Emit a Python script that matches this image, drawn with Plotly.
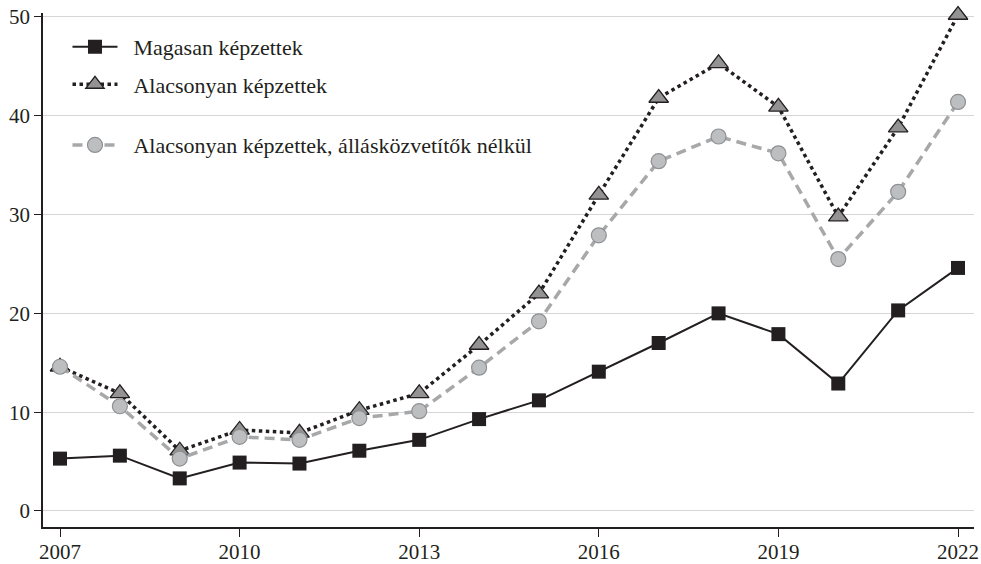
import plotly.graph_objects as go

years = list(range(2007, 2023))
magasan = [5.3, 5.6, 3.3, 4.9, 4.8, 6.1, 7.2, 9.3, 11.2, 14.1, 17.0, 20.0, 17.9, 12.9, 20.3, 24.6]
alacsony = [14.6, 11.9, 6.1, 8.2, 7.9, 10.2, 11.9, 16.8, 22.0, 32.0, 41.8, 45.3, 40.9, 29.8, 38.8, 50.2]
alacsony_nelkul = [14.6, 10.6, 5.3, 7.5, 7.2, 9.4, 10.1, 14.5, 19.2, 27.9, 35.4, 37.9, 36.2, 25.5, 32.3, 41.4]

names = ["Magasan képzettek", "Alacsonyan képzettek",
         "Alacsonyan képzettek, állásközvetítők nélkül"]
xticks = [2007, 2010, 2013, 2016, 2019, 2022]
yticks = [0, 10, 20, 30, 40, 50]

FONT = "Liberation Serif"
DARK = "#231f20"
PAD = "\u00a0\u00a0"

fig = go.Figure()
fig.add_trace(go.Scatter(
    x=years, y=alacsony, name=PAD + names[1], mode="lines+markers", legend="legend2",
    cliponaxis=False,
    line=dict(color=DARK, width=3.5, dash="dot"),
    marker=dict(symbol="triangle-up", size=17, color="#939393",
                line=dict(color=DARK, width=1.3))))
fig.add_trace(go.Scatter(
    x=years, y=alacsony_nelkul, name=PAD + names[2], mode="lines+markers", legend="legend3",
    cliponaxis=False,
    line=dict(color="#a7a8aa", width=3.5, dash="10px,6px"),
    marker=dict(symbol="circle", size=15, color="#bdbec0",
                line=dict(color="#8e9093", width=1.2))))
fig.add_trace(go.Scatter(
    x=years, y=magasan, name=PAD + names[0], mode="lines+markers", legend="legend",
    cliponaxis=False,
    line=dict(color=DARK, width=2),
    marker=dict(symbol="square", size=14, color=DARK, line=dict(width=0))))

leg_common = dict(xanchor="left", yanchor="middle", bgcolor="rgba(0,0,0,0)",
                  font=dict(family=FONT, size=22, color=DARK), itemwidth=45)
fig.update_layout(
    width=981, height=564,
    margin=dict(l=43, r=7, t=13, b=37, autoexpand=False),
    paper_bgcolor="white", plot_bgcolor="white",
    font=dict(family=FONT, size=21, color=DARK),
    showlegend=True,
    legend=dict(x=0.0263, y=0.934, **leg_common),
    legend2=dict(x=0.0263, y=0.861, **leg_common),
    legend3=dict(x=0.0263, y=0.743, **leg_common),
    xaxis=dict(range=[2006.716, 2022.267], tickvals=xticks, ticks="outside",
               ticklen=8, tickwidth=1.3, tickcolor=DARK, showgrid=False,
               showline=True, linecolor=DARK, linewidth=1.5, zeroline=False,
               automargin=False, ticklabelstandoff=-3,
               tickfont=dict(family=FONT, size=21, color=DARK)),
    yaxis=dict(range=[-1.62, 50.4], tickvals=yticks, ticks="outside",
               ticklen=7, tickwidth=1.3, tickcolor=DARK, showgrid=True,
               gridcolor="#d6d6d6", gridwidth=1, showline=True, linecolor=DARK,
               linewidth=1.5, zeroline=False, automargin=False,
               tickfont=dict(family=FONT, size=21, color=DARK)),
)
fig.write_html("out.html", config={"displayModeBar": False},
               post_script="document.body.style.margin='0';document.body.style.overflow='hidden';")
